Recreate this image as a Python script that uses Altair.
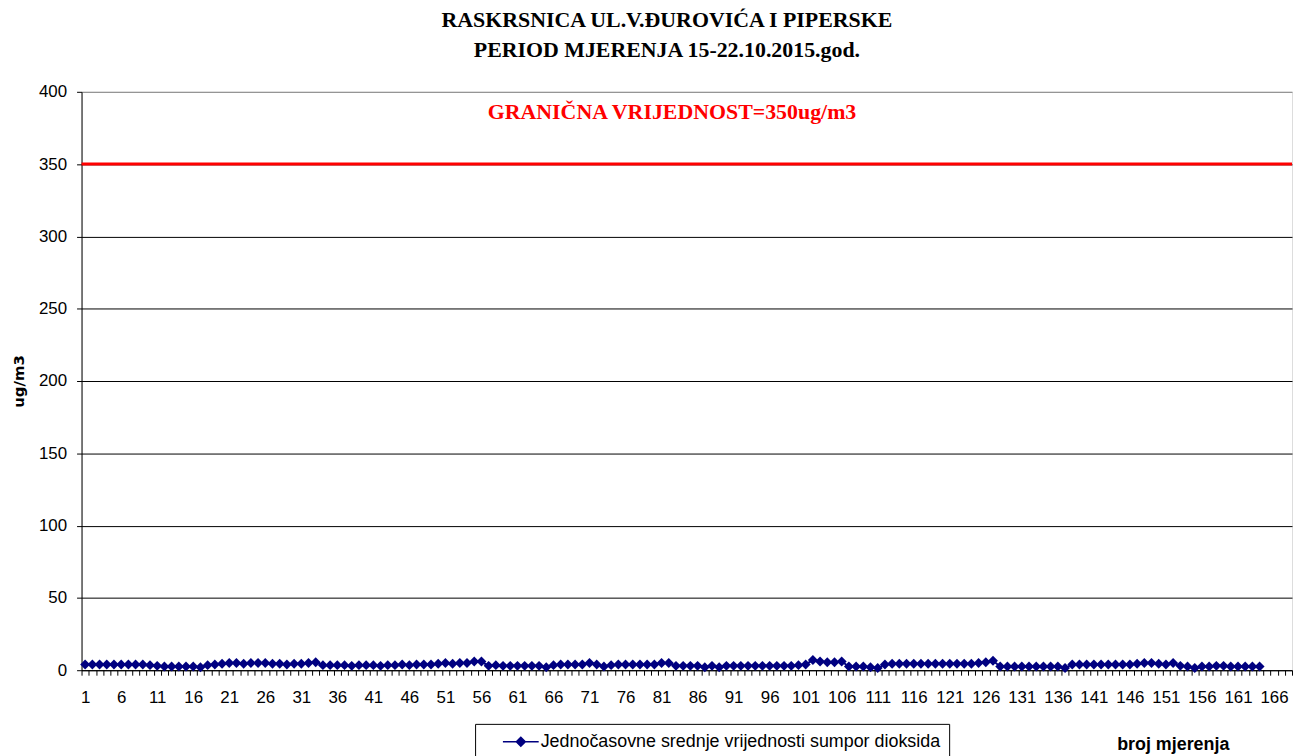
import altair as alt
import pandas as pd

TITLE_LINES = ["RASKRSNICA UL.V.ĐUROVIĆA I PIPERSKE", "PERIOD MJERENJA 15-22.10.2015.god."]
SERIES_NAME = "Jednočasovne srednje vrijednosti sumpor dioksida"
LIMIT_TEXT = "GRANIČNA VRIJEDNOST=350ug/m3"
Y_TITLE = "ug/m3"
X_TITLE = "broj mjerenja"

N_CATEGORIES = [168]
LIMIT_VALUE = [350]
LIMIT_LABEL_POS = [82.45, 386]  # (measurement no., ug/m3) of label centre
Y_TICKS = [0, 50, 100, 150, 200, 250, 300, 350, 400]

# hourly SO2 averages, measurements 1..164
values = [
    4, 4, 4, 4, 4, 4, 4, 4, 4, 3.5,
    3, 2.5, 2.5, 2.5, 2.5, 2.5, 2, 3.5, 4, 4.5,
    5, 5, 4.5, 5, 5, 5, 4.5, 4.5, 4, 4.5,
    4.5, 5, 5.5, 3.5, 3.5, 3.5, 3.5, 3, 3.5, 3.5,
    3.5, 3, 3.5, 3.5, 4, 3.5, 4, 4, 4, 4.5,
    5, 4.5, 5, 5, 6, 6, 3, 3.5, 3, 3,
    3, 3, 3, 3, 2, 3.5, 4, 4, 4, 4,
    5, 4, 2.5, 3.5, 4, 4, 4, 4, 4, 4,
    5, 5, 3, 3, 3, 3, 2, 3, 2, 3,
    3, 3, 3, 3, 3, 3, 3, 3, 3, 3.5,
    4, 7, 6, 5.5, 5.5, 6, 2.5, 2.5, 2.5, 2,
    1.5, 4, 4.5, 4.5, 4.5, 4.5, 4.5, 4.5, 4.5, 4.5,
    4.5, 4.5, 4.5, 4.5, 5, 5.5, 6.5, 2.5, 2.5, 2.5,
    2.5, 2.5, 2.5, 2.5, 2.5, 2.5, 1.5, 4, 4, 4,
    4, 4, 4, 4, 4, 4, 4.5, 5, 5, 4.5,
    4, 5, 3, 2.5, 1.5, 2.5, 2.5, 3, 3, 2.5,
    2.5, 2.5, 2.5, 2.5,
]

n_cat = N_CATEGORIES[0]
df = pd.DataFrame({"n": list(range(1, len(values) + 1)), "v": values, "series": SERIES_NAME})
df_limit = pd.DataFrame({"limit": LIMIT_VALUE})
df_label = pd.DataFrame({"n": [LIMIT_LABEL_POS[0]], "v": [LIMIT_LABEL_POS[1]], "t": [LIMIT_TEXT]})

W, H = 1218, 582
band = W / n_cat

x_axis = alt.Axis(
    values=[k + 0.5 for k in range(n_cat + 1)],
    labelExpr="((datum.value - 0.5) % 5 == 0 && datum.value < 167) ? format(datum.value + 0.5, 'd') : ''",
    labelOverlap=False,
    labelFlush=False,
    labelOffset=band / 2,
    labelFont="Liberation Sans",
    labelFontSize=17,
    labelColor="#000000",
    labelPadding=14,
    tickSize=5,
    tickColor="#000000",
    domainColor="#000000",
    grid=False,
    title=X_TITLE,
    titleFont="Liberation Sans",
    titleFontSize=18,
    titleFontWeight="bold",
    titleColor="#000000",
    titleX=1098,
    titleY=75,
    titleAlign="center",
    titleBaseline="middle",
)
y_axis = alt.Axis(
    values=Y_TICKS,
    grid=True,
    gridColor={"condition": {"test": "datum.value === 400", "value": "#808080"}, "value": "#000000"},
    gridWidth=1,
    labelFont="Liberation Sans",
    labelFontSize=17,
    labelColor="#000000",
    labelPadding=10,
    tickSize=5,
    tickColor="#000000",
    domainColor="#000000",
    title=Y_TITLE,
    titleFont="DejaVu Sans",
    titleFontSize=15,
    titleFontWeight="bold",
    titleColor="#000000",
    titlePadding=12,
)
x_scale = alt.Scale(domain=[0.5, n_cat + 0.5], nice=False, zero=False)
y_scale = alt.Scale(domain=[0, 400], nice=False)

legend = alt.Legend(
    orient="none",
    legendX=396,
    legendY=636,
    direction="vertical",
    title=None,
    padding=8,
    strokeColor="#000000",
    fillColor="#ffffff",
    cornerRadius=0,
    labelFont="Liberation Sans",
    labelFontSize=18,
    labelColor="#000000",
    labelLimit=0,
    labelOffset=10,
    symbolOffset=28,
    symbolType="M-2,0H2M0,-0.5L0.5,0L0,0.5L-0.5,0Z",
    symbolSize=324,
    symbolStrokeWidth=1.5,
    symbolFillColor="#000080",
    symbolStrokeColor="#000080",
)

limit = alt.Chart(df_limit).mark_rule(color="#FF0000", strokeWidth=3).encode(
    y=alt.Y("limit:Q", scale=y_scale, axis=y_axis)
)

label = alt.Chart(df_label).mark_text(
    font="Liberation Serif", fontSize=22, fontWeight="bold", color="#FF0000"
).encode(
    x=alt.X("n:Q", scale=x_scale, axis=x_axis),
    y=alt.Y("v:Q", scale=y_scale, axis=y_axis),
    text="t:N",
)

line = alt.Chart(df).mark_line(
    strokeWidth=2,
    point=alt.OverlayMarkDef(shape="diamond", size=100, filled=True, color="#000080"),
).encode(
    x=alt.X("n:Q", scale=x_scale, axis=x_axis),
    y=alt.Y("v:Q", scale=y_scale, axis=y_axis),
    color=alt.Color("series:N", scale=alt.Scale(range=["#000080"]), legend=legend),
)

chart = alt.layer(limit, label, line).properties(
    width=W,
    height=H,
    padding={"left": 74, "top": 82, "right": 2, "bottom": 84},
    autosize=alt.AutoSizeParams(type="none"),
    title=alt.TitleParams(
        TITLE_LINES,
        font="Liberation Serif",
        fontSize=22,
        fontWeight="bold",
        color="#000000",
        anchor="middle",
        dx=-20,
        offset=21,
        lineHeight=30,
    ),
).configure_view(stroke=None).configure(background="#ffffff")

chart.save("out.html", embed_options={"renderer": "svg", "actions": False})
